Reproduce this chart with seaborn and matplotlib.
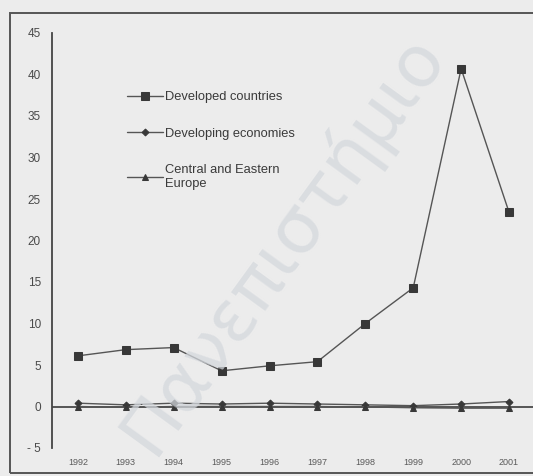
import matplotlib
matplotlib.use("Agg")
import matplotlib.pyplot as plt
import matplotlib.patches as mpatches
import numpy as np
import pandas as pd
import seaborn as sns

years = ["1992", "1993", "1994", "1995", "1996", "1997", "1998", "1999", "2000", "2001"]
developed = [6.1, 6.85, 7.1, 4.3, 4.9, 5.4, 10.0, 14.3, 40.7, 23.4]
developing = [0.4, 0.2, 0.4, 0.3, 0.4, 0.3, 0.2, 0.1, 0.3, 0.6]
cee = [0.0, -0.1, 0.0, 0.0, 0.0, 0.0, -0.05, -0.15, -0.2, -0.2]
series_names = ["Developed countries", "Developing economies", "Central and Eastern\nEurope"]
y_ticks = [-5, 0, 5, 10, 15, 20, 25, 30, 35, 40, 45]
y_tick_labels = ["- 5", "0", "5", "10", "15", "20", "25", "30", "35", "40", "45"]

bg = "#ececec"
sns.set_theme(style="white")
plt.rcParams["font.family"] = ["Liberation Sans", "DejaVu Sans"]

fig = plt.figure(figsize=(5.33, 4.76), dpi=100, facecolor=bg)
ax = fig.add_axes([52 / 533, 1 - 448 / 476, 1 - 52 / 533, (448 - 33) / 476])
ax.set_facecolor(bg)

x = np.arange(len(years))
frames = {
    series_names[0]: developed,
    series_names[1]: developing,
    series_names[2]: cee,
}
markers = ["s", "D", "^"]
msizes = [6, 3.5, 5]
for (name, vals), mk, ms in zip(frames.items(), markers, msizes):
    df = pd.DataFrame({"x": x, "v": vals})
    sns.lineplot(data=df, x="x", y="v", ax=ax, color="#555555", lw=1.0,
                 marker=mk, markersize=ms, markerfacecolor="#383838",
                 markeredgecolor="#383838", label=name, zorder=3)

ax.axhline(0, color="#4a4a4a", lw=1.3, zorder=2)

ax.set_xlim(-0.54, 9.5)
ax.set_ylim(-5, 45)
ax.set_yticks(y_ticks)
ax.set_yticklabels(y_tick_labels)
ax.set_xticks(x)
ax.set_xticklabels(years)
ax.tick_params(axis="y", length=0, pad=8, labelsize=8.5, labelcolor="#4a4a4a")
ax.tick_params(axis="x", length=0, pad=7, labelsize=6.5, labelcolor="#5a5a5a")
ax.set_xlabel("")
ax.set_ylabel("")
for s in ["top", "right", "bottom"]:
    ax.spines[s].set_visible(False)
ax.spines["left"].set_color("#444444")
ax.spines["left"].set_linewidth(1.3)

leg = ax.legend(loc="upper left", bbox_to_anchor=(127 / 533, 1 - 91 / 476),
                bbox_transform=fig.transFigure, frameon=False, fontsize=9.3,
                handlelength=2.8, handletextpad=0.15, labelspacing=1.9,
                borderpad=0, borderaxespad=0)
for t in leg.get_texts():
    t.set_color("#3a3a3a")

# Outer frame around the chart
fig.add_artist(mpatches.Rectangle((10 / 533, 1 - 473 / 476), 1.0, (473 - 13) / 476,
                                  transform=fig.transFigure, fill=False,
                                  edgecolor="#555555", lw=1.4))

# Repository watermark
fig.text(0.53, 0.49, "Πανεπιστήμιο", rotation=54, fontsize=52, color="#d4d8dd",
         alpha=0.75, ha="center", va="center", family=["DejaVu Sans"], zorder=10)

fig.savefig("out.png", dpi=100, facecolor=bg)
